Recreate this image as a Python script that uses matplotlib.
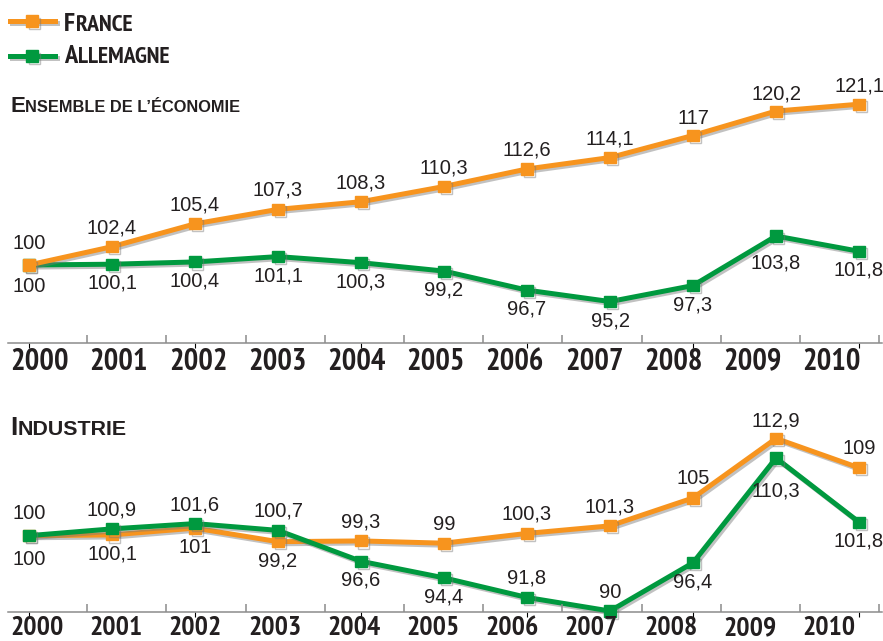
import matplotlib
matplotlib.use('Agg')
import matplotlib.pyplot as plt
import matplotlib.patheffects as pe
from matplotlib.lines import Line2D
from matplotlib import font_manager as fm

# ---------------- data ----------------
years = [str(y) for y in range(2000, 2011)]
fr_eco = [100, 102.4, 105.4, 107.3, 108.3, 110.3, 112.6, 114.1, 117, 120.2, 121.1]
de_eco = [100, 100.1, 100.4, 101.1, 100.3, 99.2, 96.7, 95.2, 97.3, 103.8, 101.8]
fr_ind = [100, 100.1, 101, 99.2, 99.3, 99, 100.3, 101.3, 105, 112.9, 109]
de_ind = [100, 100.9, 101.6, 100.7, 96.6, 94.4, 91.8, 90, 96.4, 110.3, 101.8]
# label side: +1 above the point, -1 below
fr_eco_side = [1, 1, 1, 1, 1, 1, 1, 1, 1, 1, 1]
de_eco_side = [-1, -1, -1, -1, -1, -1, -1, -1, -1, -1, -1]
fr_ind_side = [-1, -1, -1, -1, 1, 1, 1, 1, 1, 1, 1]
de_ind_side = [1, 1, 1, 1, -1, -1, 1, 1, -1, -1, -1]

# ---------------- style ----------------
ORANGE = '#F7941E'
GREEN = '#00993F'
TXT = '#231F20'
GRAY = '#8C8C8C'

bold_fams = set()
for f in fm.fontManager.ttflist:
    w = f.weight
    if w == 'bold' or (isinstance(w, int) and w >= 700):
        bold_fams.add(f.name)
all_names = {f.name for f in fm.fontManager.ttflist}


def pick(cands, need_bold, default):
    for c in cands:
        if c in all_names and (not need_bold or c in bold_fams):
            return c
    return default


NARROW = pick(['Liberation Sans Narrow', 'PT Sans Narrow', 'Archivo Narrow',
               'Roboto Condensed', 'Fira Sans Condensed', 'IBM Plex Sans Condensed',
               'Encode Sans Condensed', 'Open Sans Condensed'], True, 'Liberation Sans')
REG = 'Liberation Sans'
WIDE = 'Liberation Sans'

W, H = 883, 641
fig = plt.figure(figsize=(W / 100, H / 100), dpi=100)


def px_axes(left, top, right, bottom):
    return fig.add_axes([left / W, 1 - bottom / H, (right - left) / W, (bottom - top) / H])


shadow = [pe.SimpleLineShadow(offset=(1.5, -1.5), shadow_color='#777777', alpha=0.45), pe.Normal()]

X_LEFT, X_RIGHT = 8, 882
X0_PX, STEP_PX = 29, 83          # data point spacing
TICK_STEP_PX = 79.2              # year label spacing


def fmt(v):
    return f"{v:g}".replace('.', ',')


def panel(top, bottom, ylim, series, extra_off, ysize, ypad):
    ax = px_axes(X_LEFT, top, X_RIGHT, bottom)
    ax.set_xlim((X_LEFT - X0_PX) / STEP_PX, (X_RIGHT - X0_PX) / STEP_PX)
    ax.set_ylim(*ylim)
    for s in ['top', 'left', 'right']:
        ax.spines[s].set_visible(False)
    ax.spines['bottom'].set_color(GRAY)
    ax.spines['bottom'].set_linewidth(1.1)
    ax.tick_params(left=False, labelleft=False, bottom=False, labelbottom=False)
    ax.patch.set_alpha(0)
    xs = list(range(len(years)))
    for key, vals, sides, color, z in series:
        ax.plot(xs, vals, color=color, lw=3.6, marker='s', ms=8, mec=color,
                zorder=z, path_effects=shadow, clip_on=False)
        for i, (v, sd) in enumerate(zip(vals, sides)):
            off = extra_off.get((key, i), 19)
            ax.annotate(fmt(v), (i, v), xytext=(0, sd * off), textcoords='offset pixels',
                        ha='center', va='center', fontsize=14.5, color=TXT,
                        family=REG, zorder=10, annotation_clip=False)
    ax2 = ax.twiny()
    ax2.set_xlim(0, (X_RIGHT - X_LEFT) / TICK_STEP_PX)
    for s in ax2.spines.values():
        s.set_visible(False)
    ax2.xaxis.set_ticks_position('bottom')
    ax2.xaxis.set_label_position('bottom')
    ax2.set_xticks([k + 0.03 for k in range(len(years))], years)
    ax2.set_xticks(list(range(1, len(years) + 1)), minor=True)
    ax2.tick_params(axis='x', which='major', length=0, pad=ypad, labelsize=ysize,
                    labelcolor=TXT)
    ax2.tick_params(axis='x', which='minor', direction='in', length=5.5,
                    width=1.1, color=GRAY)
    for lbl in ax2.get_xticklabels():
        lbl.set_ha('left')
        lbl.set_family(NARROW)
        lbl.set_weight('bold')
    ax2.set_yticks([])
    return ax


# top panel: Ensemble de l'économie
panel(78, 342.7, (89.80, 124.54),
      [('de', de_eco, de_eco_side, GREEN, 3), ('fr', fr_eco, fr_eco_side, ORANGE, 4)],
      {('de', 9): 27, ('fr', 8): 17, ('fr', 9): 17, ('fr', 10): 18, ('fr', 0): 21, ('de', 0): 22},
      22, 3.5)

# bottom panel: Industrie
panel(400, 612, (89.87, 118.0),
      [('fr', fr_ind, fr_ind_side, ORANGE, 3), ('de', de_ind, de_ind_side, GREEN, 4)],
      {('de', 9): 33, ('fr', 9): 17, ('fr', 0): 24, ('de', 0): 22},
      20, 3.2)

# ---------------- titles (small caps) ----------------
renderer = fig.canvas.get_renderer()


def smallcaps(x_px, base_px, text, big, small, family):
    t1 = fig.text(x_px / W, 1 - base_px / H, text[0], fontsize=big, weight='bold',
                  family=family, color=TXT, va='baseline', ha='left')
    ext = t1.get_window_extent(renderer)
    fig.text(ext.x1 / W + 0.6 / W, 1 - base_px / H, text[1:], fontsize=small, weight='bold',
             family=family, color=TXT, va='baseline', ha='left')


smallcaps(64, 31, 'FRANCE', 19, 17, NARROW)
smallcaps(64, 63, 'ALLEMAGNE', 19, 17, NARROW)
smallcaps(10, 112, 'ENSEMBLE DE L’ÉCONOMIE', 16, 11.8, WIDE)
smallcaps(10, 435, 'INDUSTRIE', 19, 15.4, WIDE)

# ---------------- legend handles ----------------
for ypx, color in [(21, ORANGE), (56, GREEN)]:
    y = 1 - ypx / H
    fig.add_artist(Line2D([10 / W, 32 / W, 55 / W], [y, y, y], transform=fig.transFigure,
                          color=color, lw=3.6, marker='s', ms=8, markevery=[1],
                          path_effects=shadow))

fig.savefig('out.png', dpi=100)
